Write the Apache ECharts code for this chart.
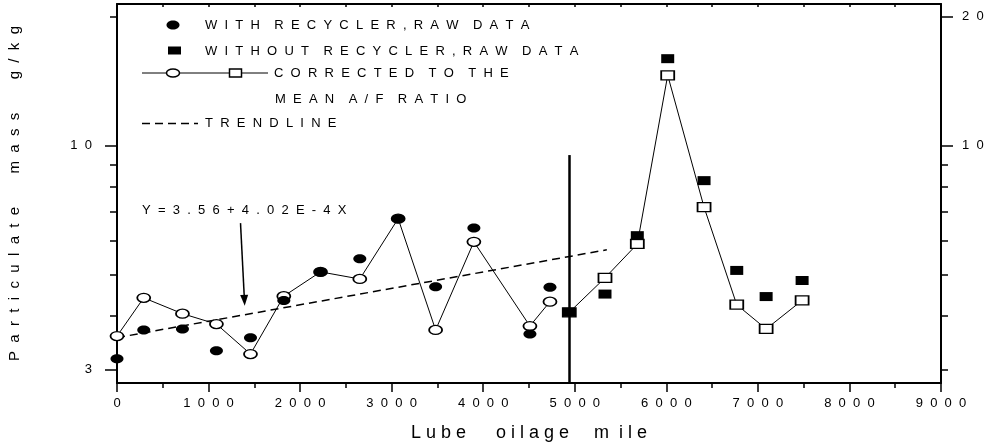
<!DOCTYPE html>
<html><head><meta charset="utf-8">
<script src="https://cdn.jsdelivr.net/npm/echarts@6/dist/echarts.min.js"></script>
<style>html,body{margin:0;padding:0;background:#fff}#c{width:989px;height:447px}</style>
</head><body><div id="c"></div>
<script>
// ---- data ----
const withRecMiles = [0, 292, 715, 1086, 1458, 1822, 2223, 2652, 3071, 3480, 3898, 4510, 4729];
const withRecRaw   = [3.18, 3.71, 3.73, 3.32, 3.56, 4.35, 5.07, 5.44, 6.75, 4.68, 6.42, 3.63, 4.67];
const withRecCorr  = [3.59, 4.41, 4.05, 3.83, 3.26, 4.45, 5.07, 4.88, 6.75, 3.71, 5.96, 3.79, 4.32];

const withoutRecMiles = [4940, 5330, 5683, 6015, 6412, 6769, 7090, 7483];
const withoutRecRaw   = [4.08, 4.50, 6.16, 15.95, 8.28, 5.11, 4.44, 4.84];
const withoutRecCorr  = [4.08, 4.91, 5.89, 14.59, 7.18, 4.25, 3.73, 4.35];

const trendMiles = [0, 5350];
const trendValues = [3.56, 5.71];
const arrowFrom = [1349, 6.59];
const arrowTo = [1392, 4.35];
const dividerMile = 4945;
const dividerTop = 9.5;

const xMin = 0, xMax = 9000, xStep = 1000;
const yMin = 2.79, yMax = 21.4;
const leftLabels = [3, 10];
const leftMinor = [4, 5, 6, 7, 8, 9, 20];
const rightLabels = [10, 20];
const rightMinor = [3, 4, 5, 6, 7, 8, 9];

const legendTexts = ['WITH RECYCLER,RAW DATA', 'WITHOUT RECYCLER,RAW DATA', 'CORRECTED TO THE', 'MEAN A/F RATIO', 'TRENDLINE'];
const equationText = 'Y=3.56+4.02E-4X';
const xName = 'L u b e      o i l a g e     m  i l e';
const yName = 'Particulate mass g/kg';

// ---- helpers ----
const FONT = '"Liberation Sans", Arial, Helvetica, sans-serif';
function spaced(s, gap, wordGap) {
  return s.split(' ').map(w => w.split('').join(' '.repeat(gap))).join(' '.repeat(wordGap));
}
const pairs = (xs, ys) => xs.map((x, i) => [x, ys[i]]);
const ELLIPSE = 'path://M0,5 C0,2.24 2.24,0 5,0 C7.76,0 10,2.24 10,5 C10,7.76 7.76,10 5,10 C2.24,10 0,7.76 0,5 Z';

const chart = echarts.init(document.getElementById('c'), null, {renderer: 'canvas'});

function yAx(pos, labels, ticks, tickLen, showLabel, showLine, margin) {
  return {
    type: 'log', logBase: 10, min: yMin, max: yMax, position: pos, offset: 0,
    axisLine: {show: showLine, lineStyle: {color: '#000', width: 2}},
    axisTick: {show: true, inside: false, length: tickLen, customValues: ticks, lineStyle: {color: '#000', width: 1.5}},
    axisLabel: {show: showLabel, customValues: labels, margin: margin, color: '#000', fontSize: 13, fontFamily: FONT,
      formatter: v => spaced(String(Math.round(v)), 2, 2)},
    splitLine: {show: false}, minorTick: {show: false}, minorSplitLine: {show: false}
  };
}

const yAxes = [
  Object.assign(yAx('left', leftLabels, leftLabels, 12, true, true, 25), {
    name: spaced(yName, 2, 8), nameLocation: 'middle', nameGap: 95, nameRotate: 90, nameMoveOverlap: false,
    nameTextStyle: {color: '#000', fontSize: 15, fontFamily: FONT}
  }),
  yAx('left', [], leftMinor, 7, false, false, 25),
  yAx('right', rightLabels, rightLabels, 12, true, true, 21),
  yAx('right', [], rightMinor, 7, false, false, 21)
];

const option = {
  animation: false,
  backgroundColor: '#fff',
  grid: {left: 117, right: 48, top: 4, bottom: 64, containLabel: false, outerBoundsMode: 'none'},
  xAxis: [
    {
      type: 'value', min: xMin, max: xMax, interval: xStep, position: 'bottom',
      name: xName, nameLocation: 'middle', nameGap: 41, nameMoveOverlap: false,
      nameTextStyle: {color: '#000', fontSize: 18, fontFamily: FONT},
      axisLine: {show: true, onZero: false, lineStyle: {color: '#000', width: 2}},
      axisTick: {show: true, inside: false, length: 9, lineStyle: {color: '#000', width: 1.5}},
      minorTick: {show: true, splitNumber: 2, length: 5, lineStyle: {color: '#000', width: 1.5}},
      axisLabel: {color: '#000', fontSize: 13, fontFamily: FONT, margin: 14, formatter: v => spaced(String(v), 2, 2)},
      splitLine: {show: false}
    },
    {
      type: 'value', min: xMin, max: xMax, interval: xStep / 2, position: 'top',
      axisLine: {show: true, onZero: false, lineStyle: {color: '#000', width: 2}},
      axisTick: {show: true, inside: true, length: 3, lineStyle: {color: '#000', width: 1.5}},
      axisLabel: {show: false}, splitLine: {show: false}
    }
  ],
  yAxis: yAxes,
  series: [
    {
      name: 'trend', type: 'line', data: pairs(trendMiles, trendValues), showSymbol: false, silent: true,
      lineStyle: {color: '#000', width: 1.5, type: [8, 5]}, z: 2,
      markLine: {
        silent: true, symbol: ['none', 'triangle'], symbolSize: [8, 11],
        lineStyle: {color: '#000', width: 1.5, type: 'solid'}, label: {show: false},
        data: [[{coord: arrowFrom}, {coord: arrowTo}]]
      }
    },
    {
      name: 'divider', type: 'line', data: [], silent: true,
      markLine: {
        silent: true, symbol: ['none', 'none'], lineStyle: {color: '#000', width: 2.5, type: 'solid'}, label: {show: false},
        data: [[{coord: [dividerMile, yMin]}, {coord: [dividerMile, dividerTop]}]]
      }
    },
    {
      name: 'corrWith', type: 'line', data: pairs(withRecMiles, withRecCorr), symbol: ELLIPSE, symbolSize: [13, 9],
      showSymbol: true, showAllSymbol: true,
      lineStyle: {color: '#000', width: 1}, itemStyle: {color: '#fff', borderColor: '#000', borderWidth: 1.5}, z: 3
    },
    {
      name: 'corrWithout', type: 'line', data: pairs(withoutRecMiles, withoutRecCorr), symbol: 'rect', symbolSize: [13, 9],
      showSymbol: true, showAllSymbol: true,
      lineStyle: {color: '#000', width: 1}, itemStyle: {color: '#fff', borderColor: '#000', borderWidth: 1.5}, z: 3
    },
    {
      name: 'rawWith', type: 'scatter', data: pairs(withRecMiles, withRecRaw), symbol: ELLIPSE, symbolSize: [13, 9],
      itemStyle: {color: '#000', opacity: 1}, z: 4
    },
    {
      name: 'rawWithout', type: 'scatter', data: pairs(withoutRecMiles, withoutRecRaw), symbol: 'rect', symbolSize: [13, 9],
      itemStyle: {color: '#000', opacity: 1}, z: 4
    }
  ],
  graphic: [
    {type: 'ellipse', z: 100, shape: {cx: 173, cy: 25, rx: 6.5, ry: 4.5}, style: {fill: '#000'}},
    {type: 'rect', z: 100, shape: {x: 168, y: 46.5, width: 13, height: 8}, style: {fill: '#000'}},
    {type: 'line', z: 100, shape: {x1: 142, y1: 73, x2: 268, y2: 73}, style: {stroke: '#000', lineWidth: 1}},
    {type: 'ellipse', z: 101, shape: {cx: 173, cy: 73, rx: 6.5, ry: 4}, style: {fill: '#fff', stroke: '#000', lineWidth: 1.5}},
    {type: 'rect', z: 101, shape: {x: 229.5, y: 69, width: 12, height: 8}, style: {fill: '#fff', stroke: '#000', lineWidth: 1.5}},
    {type: 'line', z: 100, shape: {x1: 142, y1: 123.5, x2: 198, y2: 123.5}, style: {stroke: '#000', lineWidth: 1.5, lineDash: [8, 5]}},
    {type: 'text', z: 100, x: 205, y: 25, style: {text: spaced(legendTexts[0], 2, 4), fill: '#000', fontSize: 13, fontFamily: FONT, align: 'left', verticalAlign: 'middle'}},
    {type: 'text', z: 100, x: 205, y: 51, style: {text: spaced(legendTexts[1], 2, 4), fill: '#000', fontSize: 13, fontFamily: FONT, align: 'left', verticalAlign: 'middle'}},
    {type: 'text', z: 100, x: 274, y: 73, style: {text: spaced(legendTexts[2], 2, 4), fill: '#000', fontSize: 13, fontFamily: FONT, align: 'left', verticalAlign: 'middle'}},
    {type: 'text', z: 100, x: 275, y: 99, style: {text: spaced(legendTexts[3], 2, 4), fill: '#000', fontSize: 13, fontFamily: FONT, align: 'left', verticalAlign: 'middle'}},
    {type: 'text', z: 100, x: 205, y: 123, style: {text: spaced(legendTexts[4], 2, 4), fill: '#000', fontSize: 13, fontFamily: FONT, align: 'left', verticalAlign: 'middle'}},
    {type: 'text', z: 100, x: 142, y: 210, style: {text: spaced(equationText, 2, 2), fill: '#000', fontSize: 13, fontFamily: FONT, align: 'left', verticalAlign: 'middle'}}
  ]
};
chart.setOption(option);
</script></body></html>
